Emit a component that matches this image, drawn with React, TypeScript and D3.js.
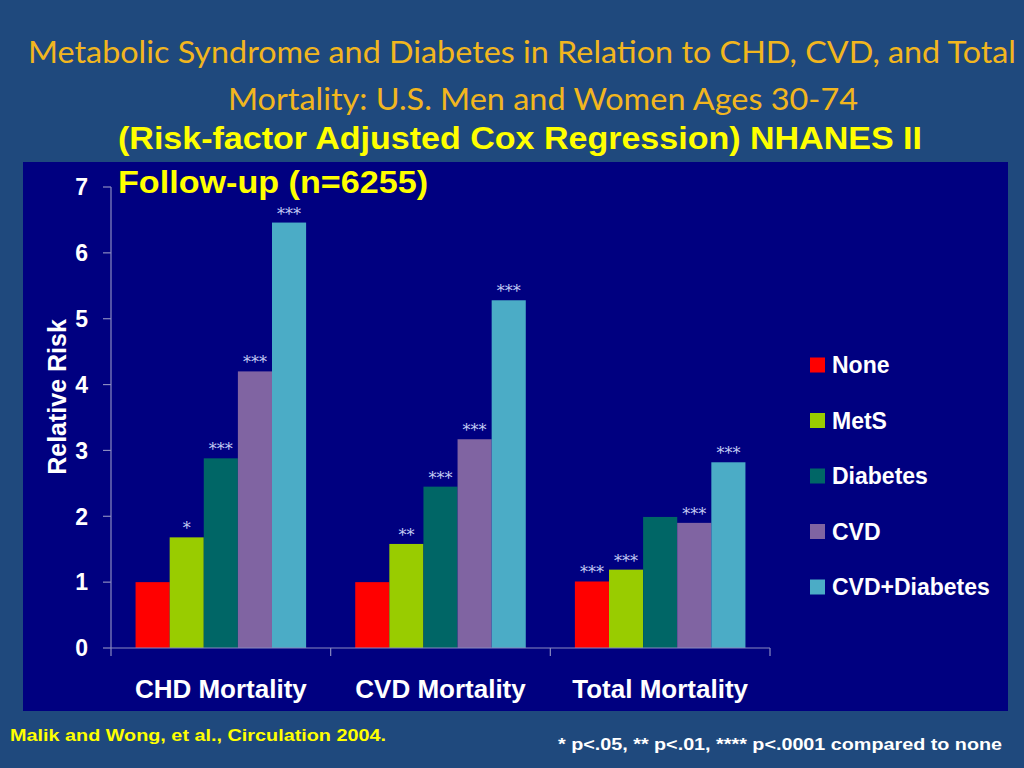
import React from "react";
import * as d3 from "d3";

const categories = ["CHD Mortality", "CVD Mortality", "Total Mortality"];
const seriesNames = ["None", "MetS", "Diabetes", "CVD", "CVD+Diabetes"];
const seriesColors = ["#FF0000", "#99CC00", "#006666", "#8064A2", "#4BACC6"];
// values[series][category]
const noneVals = [1.0, 1.0, 1.01];
const metsVals = [1.68, 1.58, 1.19];
const diabetesVals = [2.88, 2.45, 1.99];
const cvdVals = [4.2, 3.17, 1.9];
const cvdDiabVals = [6.46, 5.28, 2.82];
const values = [noneVals, metsVals, diabetesVals, cvdVals, cvdDiabVals];
// significance markers
const noneSig = ["", "", "***"];
const metsSig = ["*", "**", "***"];
const diabetesSig = ["***", "***", ""];
const cvdSig = ["***", "***", "***"];
const cvdDiabSig = ["***", "***", "***"];
const sigs = [noneSig, metsSig, diabetesSig, cvdSig, cvdDiabSig];
const yTicks = [0, 1, 2, 3, 4, 5, 6, 7];

const W = 1024;
const H = 768;
const plotLeft = 111;
const plotRight = 770;
const plotTop = 187;
const plotBottom = 648;

export default function App() {
  const x0 = d3.scaleBand<string>().domain(categories).range([plotLeft, plotRight]).paddingInner(0).paddingOuter(0);
  const x1 = d3
    .scaleBand<string>()
    .domain(seriesNames)
    .range([0, x0.bandwidth()])
    .paddingInner(0)
    .paddingOuter(0.72);
  const y = d3.scaleLinear().domain([0, 7]).range([plotBottom, plotTop]);
  const arial = "'Liberation Sans', Arial, sans-serif";

  return (
    <div style={{ position: "fixed", left: 0, top: 0 }}>
      <svg width={W} height={H} style={{ display: "block" }}>
        <rect x={0} y={0} width={W} height={H} fill="#1F497D" />
        <rect x={23} y={162} width={985} height={549} fill="#000080" />

        {/* Title */}
        <g fill="#F2B61E" fontFamily="Lato, 'Open Sans', sans-serif" fontSize={30} textAnchor="middle">
          <text x={522} y={63} textLength={988} lengthAdjust="spacingAndGlyphs">
            Metabolic Syndrome and Diabetes in Relation to CHD, CVD, and Total
          </text>
          <text x={543} y={110} textLength={630} lengthAdjust="spacingAndGlyphs">
            Mortality: U.S. Men and Women Ages 30-74
          </text>
        </g>
        <g fill="#FFFF00" fontFamily={arial} fontWeight="bold" fontSize={31}>
          <text x={118} y={149} textLength={804} lengthAdjust="spacingAndGlyphs">
            (Risk-factor Adjusted Cox Regression) NHANES II
          </text>
          <text x={118} y={193} textLength={310} lengthAdjust="spacingAndGlyphs">
            Follow-up (n=6255)
          </text>
        </g>

        {/* Bars */}
        {values.map((sv, si) =>
          sv.map((v, ci) => {
            const bx = (x0(categories[ci]) as number) + (x1(seriesNames[si]) as number);
            return (
              <rect
                key={`b${si}-${ci}`}
                x={bx}
                y={y(v)}
                width={x1.bandwidth()}
                height={y(0) - y(v)}
                fill={seriesColors[si]}
              />
            );
          })
        )}

        {/* Significance */}
        {sigs.map((ss, si) =>
          ss.map((s, ci) => {
            if (!s) return null;
            const bx = (x0(categories[ci]) as number) + (x1(seriesNames[si]) as number) + x1.bandwidth() / 2;
            return (
              <text
                key={`s${si}-${ci}`}
                x={bx}
                y={y(values[si][ci]) - 3}
                fill="#C4CCF4"
                fontFamily="'DejaVu Serif', serif"
                fontSize={16}
                textAnchor="middle"
              >
                {s}
              </text>
            );
          })
        )}

        {/* Axes */}
        <g stroke="#8A8AC0" strokeWidth={1.2}>
          <line x1={plotLeft} x2={plotLeft} y1={y(7)} y2={y(0)} />
          {yTicks.map((t) => (
            <line key={t} x1={plotLeft - 8} x2={plotLeft} y1={y(t)} y2={y(t)} />
          ))}
          <line x1={plotLeft} x2={plotRight} y1={y(0)} y2={y(0)} />
          {[...categories.map((c) => x0(c) as number), plotRight].map((xx, i) => (
            <line key={`xt${i}`} x1={xx} x2={xx} y1={y(0)} y2={y(0) + 8} />
          ))}
        </g>
        <g fill="#FFFFFF" fontFamily={arial} fontWeight="bold" fontSize={23} textAnchor="end">
          {yTicks.map((t) => (
            <text key={t} x={88} y={y(t)} dy="0.36em">
              {t}
            </text>
          ))}
        </g>
        <text
          transform={`translate(57, 397) rotate(-90)`}
          fill="#FFFFFF"
          fontFamily={arial}
          fontWeight="bold"
          fontSize={25}
          textAnchor="middle"
          dy="0.36em"
        >
          Relative Risk
        </text>

        {/* X labels */}
        <g fill="#FFFFFF" fontFamily={arial} fontWeight="bold" fontSize={26} textAnchor="middle">
          {categories.map((c) => (
            <text key={c} x={(x0(c) as number) + x0.bandwidth() / 2} y={698}>
              {c}
            </text>
          ))}
        </g>

        {/* Legend */}
        {seriesNames.map((s, i) => (
          <g key={s} transform={`translate(810, ${365 + i * 55.5})`}>
            <rect x={0} y={-7.5} width={15} height={15} fill={seriesColors[i]} />
            <text x={22} y={0} dy="0.36em" fill="#FFFFFF" fontFamily={arial} fontWeight="bold" fontSize={23}>
              {s}
            </text>
          </g>
        ))}

        {/* Footnotes */}
        <text x={10} y={741} fill="#FFFF00" fontFamily={arial} fontWeight="bold" fontSize={17} textLength={376} lengthAdjust="spacingAndGlyphs">
          Malik and Wong, et al., Circulation 2004.
        </text>
        <text x={558} y={750} fill="#FFFFFF" fontFamily={arial} fontWeight="bold" fontSize={17} textLength={444} lengthAdjust="spacingAndGlyphs">
          * p&lt;.05, ** p&lt;.01, **** p&lt;.0001 compared to none
        </text>
      </svg>
    </div>
  );
}
